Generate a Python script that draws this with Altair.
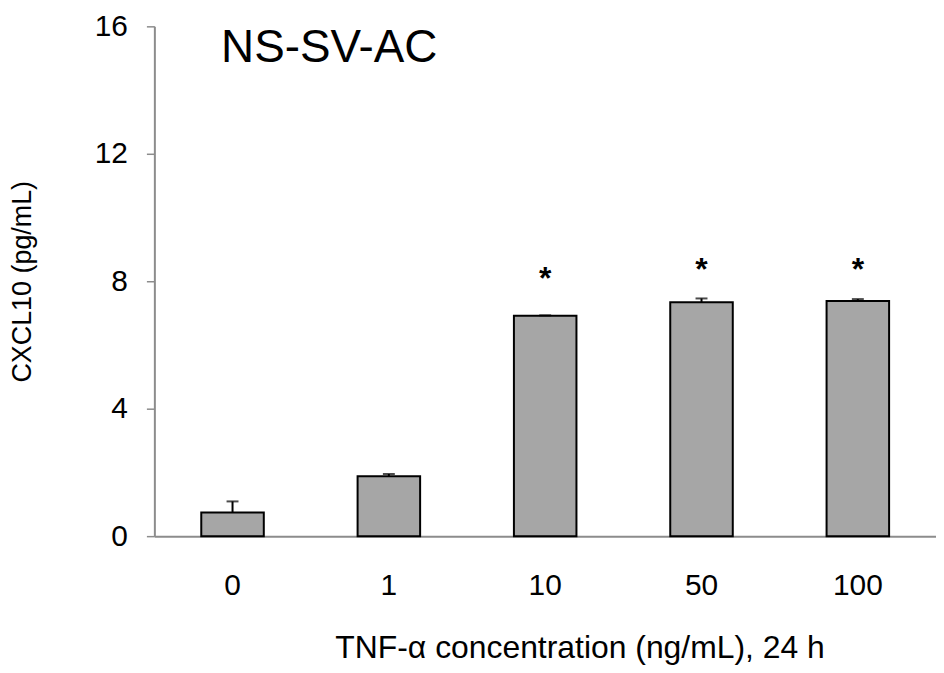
import altair as alt
import pandas as pd

categories = ["0", "1", "10", "50", "100"]
means = [0.74, 1.88, 6.92, 7.34, 7.38]
errors = [0.35, 0.07, 0.01, 0.12, 0.06]
stars = ["", "", "*", "*", "*"]
star_y = [0, 0, 8.19, 8.47, 8.47]

df = pd.DataFrame({
    "conc": categories,
    "mean": means,
    "err": errors,
    "top": [m + e for m, e in zip(means, errors)],
    "star": stars,
    "star_y": star_y,
})

FONT = "Liberation Sans"

x = alt.X(
    "conc:N",
    sort=categories,
    scale=alt.Scale(paddingInner=0.6, paddingOuter=0.3),
    axis=alt.Axis(
        title="TNF-α concentration (ng/mL), 24 h",
        labelAngle=0,
        ticks=False,
        labelPadding=35,
        titlePadding=32,
        titleFontSize=32,
        titleX=427,
        titleAlign="center",
    ),
)
y_scale = alt.Scale(domain=[0, 16], nice=False)
y_axis = alt.Axis(
    title="CXCL10 (pg/mL)",
    values=[0, 4, 8, 12, 16],
    grid=False,
    tickSize=8,
    labelPadding=19,
    titlePadding=58,
    titleFontSize=27,
)

base = alt.Chart(df).encode(x=x)

bars = base.mark_bar(
    color="#a6a6a6", stroke="black", strokeWidth=2
).encode(y=alt.Y("mean:Q", scale=y_scale, axis=y_axis))

err_rule = base.mark_rule(color="black", strokeWidth=2).encode(
    y=alt.Y("mean:Q", scale=y_scale, axis=y_axis), y2="top:Q"
)
err_cap = base.mark_tick(
    color="black", thickness=2, size=12, orient="horizontal"
).encode(y=alt.Y("top:Q", scale=y_scale, axis=y_axis))

star_text = base.mark_text(
    fontSize=32, font=FONT, fontWeight="bold", baseline="middle", dy=4, color="black"
).encode(y=alt.Y("star_y:Q", scale=y_scale, axis=y_axis), text="star:N")

chart = (
    alt.layer(bars, err_rule, err_cap, star_text)
    .properties(
        width=785,
        height=512,
        autosize=alt.AutoSizeParams(type="none"),
        padding={"left": 147, "top": 17, "right": 0, "bottom": 130},
        title=alt.TitleParams(
            "NS-SV-AC",
            anchor="start",
            frame="group",
            orient="top",
            font=FONT,
            fontSize=46,
            fontWeight="normal",
            color="black",
            dx=67,
            dy=65,
        ),
    )
    .configure_view(stroke=None)
    .configure_axis(
        labelFont=FONT,
        titleFont=FONT,
        labelFontSize=30,
        titleFontWeight="normal",
        labelColor="black",
        titleColor="black",
        domainColor="#8c8c8c",
        domainWidth=2,
        tickColor="#8c8c8c",
        tickWidth=1.5,
    )
)

chart.save("out.html", embed_options={"renderer": "svg", "actions": False})
